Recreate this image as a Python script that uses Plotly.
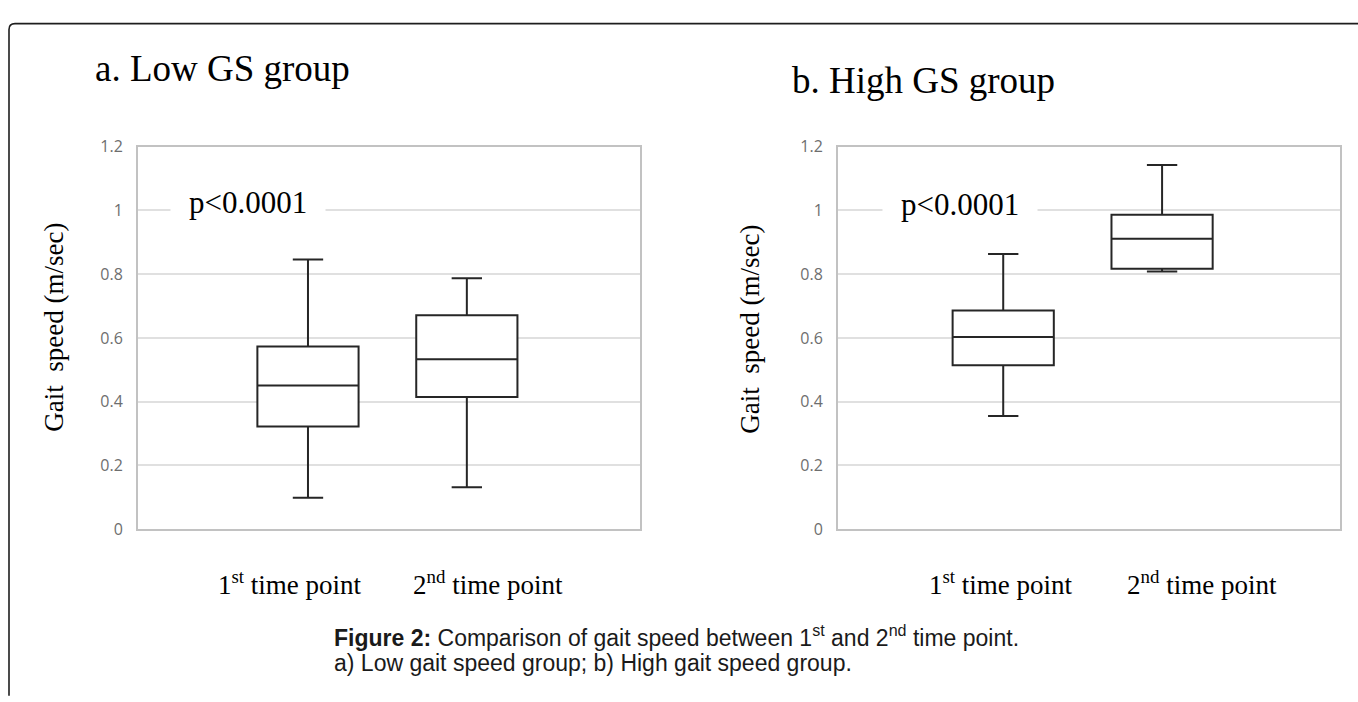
import plotly.graph_objects as go

W, H = 1358, 702

# ---------------- data ----------------
categories = ["1st time point", "2nd time point"]
category_labels = ["1<sup>st</sup> time point", "2<sup>nd</sup> time point"]
panel_titles = ["a. Low GS group", "b. High GS group"]
p_values = ["p<0.0001", "p<0.0001"]
y_title = "Gait  speed (m/sec)"
y_ticks = [0, 0.2, 0.4, 0.6, 0.8, 1.0, 1.2]

low_q1 = [0.322, 0.415]
low_median = [0.451, 0.533]
low_q3 = [0.573, 0.671]
low_lower = [0.099, 0.132]
low_upper = [0.846, 0.787]

high_q1 = [0.514, 0.817]
high_median = [0.603, 0.911]
high_q3 = [0.686, 0.986]
high_lower = [0.355, 0.808]
high_upper = [0.863, 1.142]

caption_line1 = ("<b>Figure 2:</b> Comparison of gait speed between 1<sup>st</sup> "
                 "and 2<sup>nd</sup> time point.")
caption_line2 = "a) Low gait speed group; b) High gait speed group."


# ---------------- helpers (pixel -> paper) ----------------
def px(x):
    return x / W


def py(y):
    return 1 - y / H


SERIF = "Liberation Serif"
SANS = "Liberation Sans"
BOX_LINE = "#262626"

fig = go.Figure()

fig.add_trace(go.Box(
    x=categories, q1=low_q1, median=low_median, q3=low_q3,
    lowerfence=low_lower, upperfence=low_upper,
    orientation="v", boxpoints=False, fillcolor="white",
    line=dict(color=BOX_LINE, width=2), whiskerwidth=0.3,
    xaxis="x", yaxis="y", showlegend=False, hoverinfo="skip"))

fig.add_trace(go.Box(
    x=categories, q1=high_q1, median=high_median, q3=high_q3,
    lowerfence=high_lower, upperfence=high_upper,
    orientation="v", boxpoints=False, fillcolor="white",
    line=dict(color=BOX_LINE, width=2), whiskerwidth=0.3,
    xaxis="x2", yaxis="y2", showlegend=False, hoverinfo="skip"))

xcommon = dict(type="category", showticklabels=False, showgrid=False,
               zeroline=False, showline=True, mirror=True,
               linecolor="#c2c2c2", linewidth=2, ticks="", fixedrange=True)
ycommon = dict(range=[0, 1.2], tickvals=y_ticks, showgrid=True,
               gridcolor="#e0e0e0", gridwidth=2, zeroline=False,
               showline=True, mirror=True, linecolor="#c2c2c2", linewidth=2,
               ticks="", ticklabelstandoff=10, fixedrange=True,
               tickfont=dict(family="Open Sans", size=16, color="#6e6e6e"))

left_dom = [px(138), px(640)]
right_dom = [px(838), px(1340)]
y_dom = [py(535), py(140)]

fig.update_layout(
    width=W, height=H,
    margin=dict(l=0, r=0, t=0, b=0),
    paper_bgcolor="white", plot_bgcolor="white",
    boxgap=0.09, showlegend=False,
    xaxis=dict(domain=left_dom, range=[-1.07, 2.09], anchor="y", **xcommon),
    yaxis=dict(domain=y_dom, anchor="x", **ycommon),
    xaxis2=dict(domain=right_dom, range=[-1.04, 2.12], anchor="y2", **xcommon),
    yaxis2=dict(domain=y_dom, anchor="x2", **ycommon),
)

ann = []
# panel titles
ann.append(dict(text=panel_titles[0], x=px(93), y=py(59), xanchor="left",
                yanchor="middle", font=dict(family=SERIF, size=37, color="black")))
ann.append(dict(text=panel_titles[1], x=px(790), y=py(72), xanchor="left",
                yanchor="middle", font=dict(family=SERIF, size=37, color="black")))
# p values
for xc, yc, t in [(248, 198, p_values[0]), (960, 200, p_values[1])]:
    ann.append(dict(text=t, x=px(xc), y=py(yc), xanchor="center", yanchor="middle",
                    bgcolor="white", borderpad=18,
                    font=dict(family=SERIF, size=31, color="black")))
# y titles
for xc, yc in [(54, 327), (750, 329)]:
    ann.append(dict(text=y_title, x=px(xc), y=py(yc), textangle=-90,
                    xanchor="center", yanchor="middle",
                    font=dict(family=SERIF, size=27, color="black")))
# category labels
for xc, lab in [(290, category_labels[0]), (488, category_labels[1]),
                (1001, category_labels[0]), (1202, category_labels[1])]:
    ann.append(dict(text=lab, x=px(xc), y=py(590), xanchor="center",
                    yanchor="middle", font=dict(family=SERIF, size=27, color="black")))
# caption
ann.append(dict(text=caption_line1, x=px(332), y=py(645), xanchor="left",
                yanchor="middle", font=dict(family=SANS, size=23, color="#1a1a1a")))
ann.append(dict(text=caption_line2, x=px(332), y=py(673), xanchor="left",
                yanchor="middle", font=dict(family=SANS, size=23, color="#1a1a1a")))

for a in ann:
    a.update(xref="paper", yref="paper", showarrow=False)
fig.update_layout(annotations=ann)

# outer frame: left + top lines with a rounded top-left corner
x0, y0, r = 9, 13, 6
path = (f"M {px(x0)},{py(H + 5)} L {px(x0)},{py(y0 + r)} "
        f"Q {px(x0)},{py(y0)} {px(x0 + r)},{py(y0)} L {px(W + 5)},{py(y0)}")
fig.add_shape(type="path", path=path, xref="paper", yref="paper",
              line=dict(color="#1e1e1e", width=1.6))

fig.write_html("out.html", config={"displayModeBar": False},
               post_script="document.body.style.margin='0';"
                           "document.body.style.overflow='hidden';")
